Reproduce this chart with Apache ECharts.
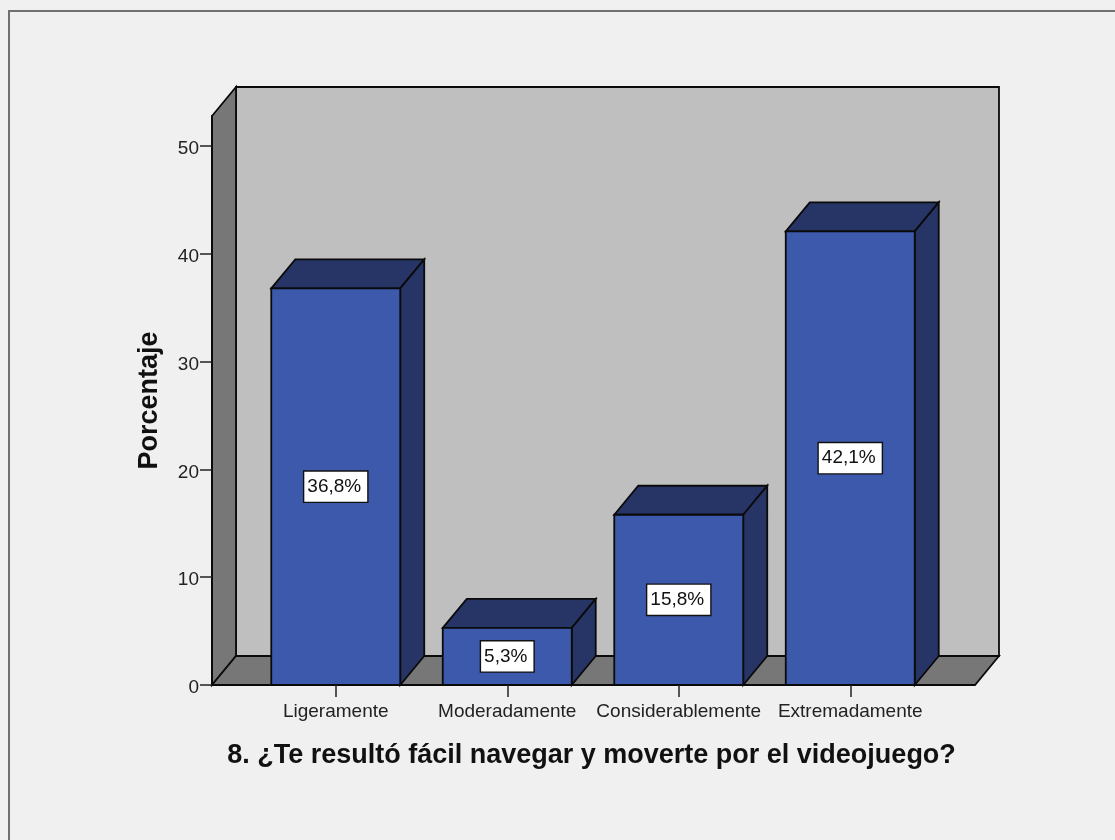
<!DOCTYPE html>
<html>
<head>
<meta charset="utf-8">
<style>
  html, body { margin: 0; padding: 0; background: #f0f0f0; }
  #chart { width: 1115px; height: 840px; }
</style>
<script src="https://cdn.jsdelivr.net/npm/echarts@6/dist/echarts.min.js"></script>
</head>
<body>
<div id="chart"></div>
<script>
// Percentage of answers per category
const categories = ['Ligeramente', 'Moderadamente', 'Considerablemente', 'Extremadamente'];
const percentages = [36.8, 5.3, 15.8, 42.1];
const yTicks = [0, 10, 20, 30, 40, 50];
const yAxisTitle = 'Porcentaje';
const xAxisTitle = '8. ¿Te resultó fácil navegar y moverte por el videojuego?';

// Pseudo-3D depth of the box and the bars, in pixels
const DEPTH_X = 24;
const DEPTH_Y = 29;
const WALL_OVERHANG = 38;
const EDGE = { stroke: '#0a0a0a', lineWidth: 1.8 };

function poly(points, fill, z2) {
  return { type: 'polygon', z2: z2 || 0, shape: { points }, style: { fill, ...EDGE } };
}

// Back wall, side wall and floor of the chart box
function renderBox(params) {
  const c = params.coordSys;
  const l = c.x - WALL_OVERHANG;
  const r = c.x + c.width + WALL_OVERHANG + 1;
  const t = c.y;
  const b = c.y + c.height;
  return {
    type: 'group',
    children: [
      poly([[l + DEPTH_X, t - DEPTH_Y], [r + DEPTH_X, t - DEPTH_Y], [r + DEPTH_X, b - DEPTH_Y], [l + DEPTH_X, b - DEPTH_Y]], '#bfbfbf'),
      poly([[l, t], [l + DEPTH_X, t - DEPTH_Y], [l + DEPTH_X, b - DEPTH_Y], [l, b]], '#777777'),
      poly([[l, b], [l + DEPTH_X, b - DEPTH_Y], [r + DEPTH_X, b - DEPTH_Y], [r, b]], '#777777')
    ]
  };
}

// One bar: front face, top face, side face and its boxed value label
function renderBar(params, api) {
  const value = api.value(1);
  const base = api.coord([api.value(0), 0]);
  const top = api.coord([api.value(0), value]);
  const w = api.size([1, 0])[0] * 0.752;
  const x0 = base[0] - w / 2;
  const x1 = base[0] + w / 2;
  const yTop = top[1];
  const yBase = base[1];
  return {
    type: 'group',
    children: [
      poly([[x0, yTop], [x0 + DEPTH_X, yTop - DEPTH_Y], [x1 + DEPTH_X, yTop - DEPTH_Y], [x1, yTop]], '#263566'),
      poly([[x1, yTop], [x1 + DEPTH_X, yTop - DEPTH_Y], [x1 + DEPTH_X, yBase - DEPTH_Y], [x1, yBase]], '#263566'),
      poly([[x0, yTop], [x1, yTop], [x1, yBase], [x0, yBase]], '#3d59ab'),
      {
        type: 'text',
        z2: 10,
        x: base[0],
        y: (yTop + yBase) / 2,
        style: {
          text: value.toFixed(1).replace('.', ',') + '%',
          font: '19px "Liberation Sans"',
          fill: '#111111',
          align: 'center',
          verticalAlign: 'middle',
          backgroundColor: '#ffffff',
          borderColor: '#111111',
          borderWidth: 1.4,
          padding: [6, 6, 5, 3]
        }
      }
    ]
  };
}

const chart = echarts.init(document.getElementById('chart'), null, { renderer: 'canvas' });
chart.setOption({
  animation: false,
  backgroundColor: '#f0f0f0',
  graphic: [{
    type: 'polyline',
    silent: true,
    shape: { points: [[9, 840], [9, 11], [1115, 11]] },
    style: { stroke: '#707070', lineWidth: 2, fill: null }
  }],
  grid: { left: 250, top: 116, width: 686, height: 569 },
  xAxis: {
    type: 'category',
    data: categories,
    name: xAxisTitle,
    nameLocation: 'middle',
    nameGap: 57,
    nameTextStyle: { fontFamily: 'Liberation Sans', fontWeight: 'bold', fontSize: 27, color: '#111111', padding: [0, 3, 0, 0] },
    axisLine: { show: false },
    axisTick: { show: true, alignWithLabel: true, length: 12, lineStyle: { color: '#222222', width: 1.5 } },
    axisLabel: { interval: 0, margin: 17, fontFamily: 'Liberation Sans', fontSize: 19, color: '#222222' },
    z: 6
  },
  yAxis: {
    type: 'value',
    min: 0,
    max: 52.8,
    offset: WALL_OVERHANG,
    splitLine: { show: false },
    name: yAxisTitle,
    nameLocation: 'middle',
    nameGap: 49,
    nameTextStyle: { fontFamily: 'Liberation Sans', fontWeight: 'bold', fontSize: 27, color: '#111111' },
    axisLine: { show: true, lineStyle: { color: '#0a0a0a', width: 1.8 } },
    axisTick: { show: true, customValues: yTicks, length: 12, lineStyle: { color: '#222222', width: 1.5 } },
    axisLabel: { customValues: yTicks, margin: 13, verticalAlign: 'top', lineHeight: 6, fontFamily: 'Liberation Sans', fontSize: 19, color: '#222222' },
    z: 6
  },
  series: [
    {
      type: 'custom',
      coordinateSystem: 'cartesian2d',
      clip: false,
      silent: true,
      z: 1,
      renderItem: renderBox,
      data: [[0, 0]]
    },
    {
      type: 'custom',
      coordinateSystem: 'cartesian2d',
      clip: false,
      z: 2,
      renderItem: renderBar,
      encode: { x: 0, y: 1 },
      data: categories.map((name, i) => [i, percentages[i]])
    }
  ]
});
</script>
</body>
</html>
